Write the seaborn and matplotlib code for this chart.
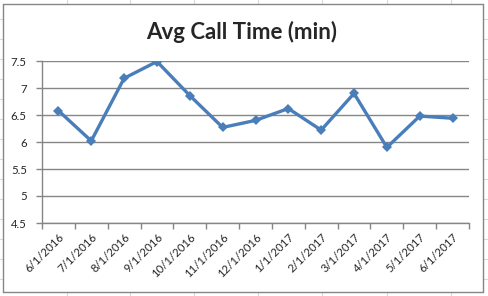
import matplotlib
matplotlib.use("Agg")
import matplotlib.pyplot as plt
from matplotlib.lines import Line2D
from matplotlib.ticker import FixedLocator
import seaborn as sns
import pandas as pd

months = ["6/1/2016", "7/1/2016", "8/1/2016", "9/1/2016", "10/1/2016", "11/1/2016",
          "12/1/2016", "1/1/2017", "2/1/2017", "3/1/2017", "4/1/2017", "5/1/2017", "6/1/2017"]
avg_call_time = [6.58, 6.02, 7.18, 7.49, 6.86, 6.27, 6.40, 6.62, 6.22, 6.90, 5.90, 6.48, 6.44]
y_ticks = [4.5, 5, 5.5, 6, 6.5, 7, 7.5]
y_labels = ["4.5", "5", "5.5", "6", "6.5", "7", "7.5"]
title = "Avg Call Time (min)"

sns.set_style("white")
plt.rcParams['font.family'] = ['Lato', 'DejaVu Sans']

W, H = 488, 296
fig = plt.figure(figsize=(W / 100, H / 100), dpi=100)
fig.patch.set_facecolor("white")

def px(x0, y0, x1, y1):
    return [x0 / W, x1 / W], [1 - y0 / H, 1 - y1 / H]

# spreadsheet cell lines visible around the chart
sheet = "#d9d9d9"
for x in [67, 130, 194, 258, 322, 387, 451]:
    for (a, b) in [(0, 4), (292, 296)]:
        xs, ys = px(x, a, x, b)
        fig.add_artist(Line2D(xs, ys, color=sheet, lw=0.8))
for y in range(19, 296, 20):
    for (a, b) in [(0, 3), (483, 488)]:
        xs, ys = px(a, y, b, y)
        fig.add_artist(Line2D(xs, ys, color=sheet, lw=0.8))

# chart border
border = "#868686"
for (x0, y0, x1, y1) in [(3, 4, 483, 4), (3, 292, 483, 292), (3, 4, 3, 292), (483, 4, 483, 292)]:
    xs, ys = px(x0, y0, x1, y1)
    fig.add_artist(Line2D(xs, ys, color=border, lw=1.0))

left, right, top, bottom = 42, 469, 61, 223
ax = fig.add_axes([left / W, 1 - bottom / H, (right - left) / W, (bottom - top) / H])

df = pd.DataFrame({"month": months, "value": avg_call_time})
df["pos"] = range(len(months))
sns.lineplot(data=df, x="pos", y="value", ax=ax, color="#4a7ebb", lw=2.4,
             marker="D", markersize=5, markeredgewidth=0, sort=False)

ax.set_xlim(-0.5, len(months) - 0.5)
ax.set_ylim(4.5, 7.5)
ax.set_xlabel("")
ax.set_ylabel("")

ax.set_yticks(y_ticks)
ax.set_yticklabels(y_labels, fontsize=8.2)
ax.yaxis.grid(True, color=border, lw=1.0)
ax.tick_params(axis="y", length=4, width=1.0, color=border, direction="out", pad=7, left=True)

ax.set_xticks(range(len(months)))
ax.set_xticklabels(months, fontsize=8.2, rotation=45, ha="right", va="top", rotation_mode="anchor")
ax.tick_params(axis="x", which="major", length=0, pad=6)
ax.xaxis.set_minor_locator(FixedLocator([i - 0.5 for i in range(len(months) + 1)]))
ax.tick_params(axis="x", which="minor", length=4, width=1.0, color=border, direction="out", bottom=True)

for s in ["top", "right"]:
    ax.spines[s].set_visible(False)
for s in ["left", "bottom"]:
    ax.spines[s].set_color(border)
    ax.spines[s].set_linewidth(1.0)

fig.text(242 / W, 1 - 32 / H, title, ha="center", va="center", fontsize=16, fontweight="bold")

fig.savefig("out.png", dpi=100, facecolor="white")
